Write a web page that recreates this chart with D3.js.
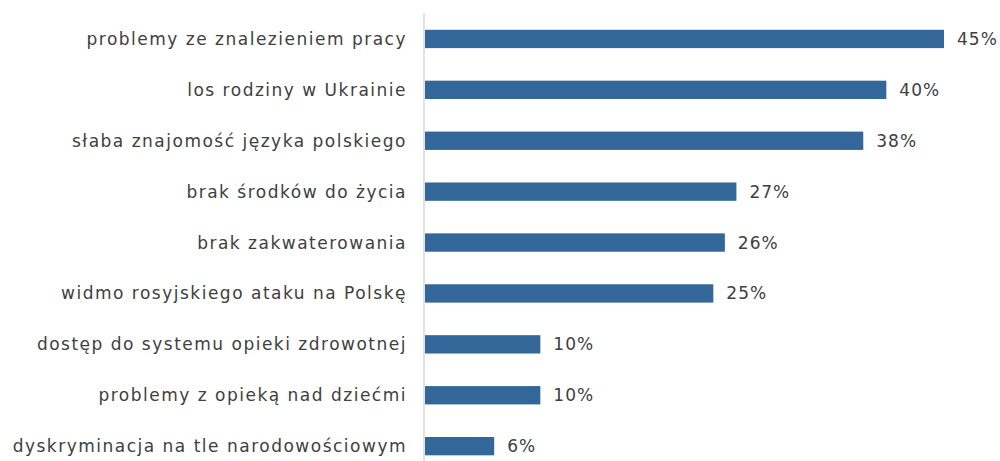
<!DOCTYPE html>
<html>
<head>
<meta charset="utf-8">
<script src="https://cdn.jsdelivr.net/npm/d3@7"></script>
<style>
  body { margin: 0; background: #fff; }
</style>
</head>
<body>
<div class="canva"></div>
<script>
// data
const categories = [
  "problemy ze znalezieniem pracy",
  "los rodziny w Ukrainie",
  "słaba znajomość języka polskiego",
  "brak środków do życia",
  "brak zakwaterowania",
  "widmo rosyjskiego ataku na Polskę",
  "dostęp do systemu opieki zdrowotnej",
  "problemy z opieką nad dziećmi",
  "dyskryminacja na tle narodowościowym"
];
const values = [45, 40, 38, 27, 26, 25, 10, 10, 6];

const width = 1000, height = 461;
const x0 = 424;

const svg = d3.select(".canva").append("svg")
              .attr("width", width)
              .attr("height", height);

const x = d3.scaleLinear().domain([0, 45]).range([x0 + 1, 944]);
const y = d3.scaleBand().domain(categories).range([13.5, 471.6]).paddingInner(0.64).paddingOuter(0.32);

// bars
svg.selectAll("rect")
   .data(categories)
   .enter().append("rect")
   .attr("x", x(0))
   .attr("y", d => y(d))
   .attr("width", (d, i) => x(values[i]) - x(0))
   .attr("height", y.bandwidth())
   .attr("fill", "#336699");

// axis line
svg.append("line")
   .attr("x1", x0).attr("x2", x0)
   .attr("y1", 13).attr("y2", height)
   .attr("stroke", "#d9d9d9")
   .attr("stroke-width", 1.5);

// category labels
svg.selectAll("text.cat")
   .data(categories)
   .enter().append("text")
   .attr("class", "cat")
   .text(d => d)
   .attr("x", 407)
   .attr("y", d => y(d) + y.bandwidth() / 2)
   .attr("dy", "0.35em")
   .attr("text-anchor", "end")
   .attr("font-family", "DejaVu Sans")
   .attr("font-size", 17)
   .attr("letter-spacing", 1.5)
   .attr("fill", "#404040");

// value labels
svg.selectAll("text.val")
   .data(categories)
   .enter().append("text")
   .attr("class", "val")
   .text((d, i) => values[i] + "%")
   .attr("x", (d, i) => x(values[i]) + 13)
   .attr("y", d => y(d) + y.bandwidth() / 2)
   .attr("dy", "0.35em")
   .attr("font-family", "DejaVu Sans")
   .attr("font-size", 17)
   .attr("letter-spacing", 1)
   .attr("fill", "#404040");
</script>
</body>
</html>
